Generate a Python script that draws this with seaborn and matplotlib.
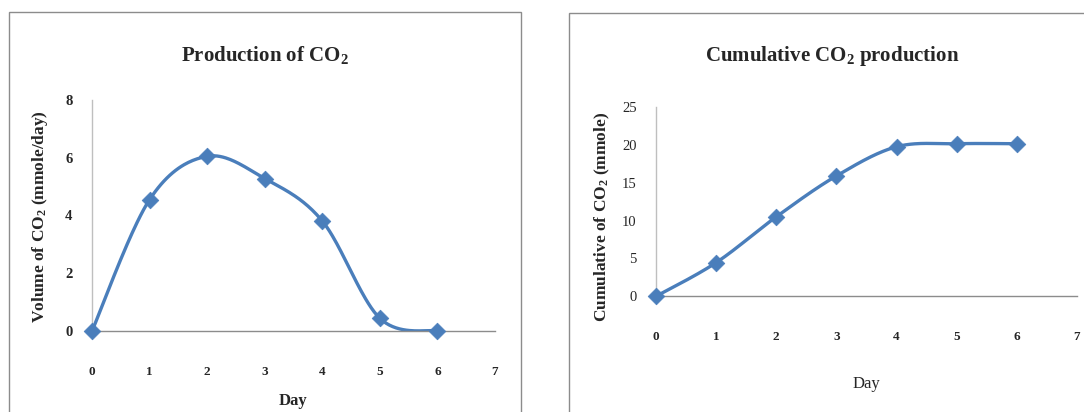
import numpy as np
import pandas as pd
import matplotlib
matplotlib.use("Agg")
import matplotlib.pyplot as plt
from matplotlib.patches import Rectangle
import seaborn as sns

# Daily and cumulative CO2 production
days = [0, 1, 2, 3, 4, 5, 6]
daily_co2 = [0.0, 4.55, 6.05, 5.28, 3.81, 0.44, 0.0]
cumulative_co2 = [0.0, 4.45, 10.5, 15.9, 19.75, 20.15, 20.15]

x_ticks = [0, 1, 2, 3, 4, 5, 6, 7]
left_y_ticks = [0, 2, 4, 6, 8]
right_y_ticks = [0, 5, 10, 15, 20, 25]

BLUE = "#4A7EBB"
SERIF = "Liberation Serif"

sns.set_theme(style="white")
plt.rcParams["font.family"] = [SERIF, "DejaVu Serif"]
plt.rcParams["mathtext.fontset"] = "custom"
plt.rcParams["mathtext.rm"] = SERIF
plt.rcParams["mathtext.bf"] = SERIF + ":bold"


def smooth_curve(xs, ys, steps=40):
    """Catmull-Rom style Bezier smoothing through every point."""
    p = np.column_stack([xs, ys]).astype(float)
    ext = np.vstack([p[0], p, p[-1]])
    out = []
    for i in range(len(p) - 1):
        p0, p1, p2, p3 = ext[i], ext[i + 1], ext[i + 2], ext[i + 3]
        c1 = p1 + (p2 - p0) / 6.0
        c2 = p2 - (p3 - p1) / 6.0
        t = np.linspace(0, 1, steps, endpoint=(i == len(p) - 2))[:, None]
        seg = ((1 - t) ** 3) * p1 + 3 * ((1 - t) ** 2) * t * c1 + 3 * (1 - t) * t ** 2 * c2 + t ** 3 * p2
        out.append(seg)
    pts = np.vstack(out)
    return pd.DataFrame({"x": pts[:, 0], "y": pts[:, 1]})


def draw_panel(ax, values, yticks, ymax, ytick_bold):
    curve = smooth_curve(days, values)
    sns.lineplot(data=curve, x="x", y="y", ax=ax, sort=False, color=BLUE,
                 linewidth=2.4, estimator=None)
    pts = pd.DataFrame({"day": days, "val": values})
    sns.scatterplot(data=pts, x="day", y="val", ax=ax, marker="D", s=72,
                    color=BLUE, edgecolor=BLUE, linewidth=0.5, zorder=5, clip_on=False)
    ax.set_xlim(0, 7)
    ax.set_ylim(0, ymax)
    ax.set_xticks(x_ticks)
    ax.set_yticks(yticks)
    ax.set_xticklabels([str(v) for v in x_ticks], fontweight="bold", fontsize=9.5)
    ax.set_yticklabels([str(v) for v in yticks],
                       fontweight="bold" if ytick_bold else "normal", fontsize=10.5)
    ax.tick_params(axis="x", length=0, pad=25)
    ax.tick_params(axis="y", length=0, pad=14)
    for s in ("top", "right"):
        ax.spines[s].set_visible(False)
    ax.spines["left"].set_color("#BFBFBF")
    ax.spines["left"].set_linewidth(1.0)
    ax.spines["bottom"].set_color("#8C8C8C")
    ax.spines["bottom"].set_linewidth(1.0)
    ax.set_facecolor("white")


fig = plt.figure(figsize=(10.84, 4.12), dpi=100)
W, H = 1084.0, 412.0

# chart frames
fig.patches.append(Rectangle((9 / W, -0.01), (521 - 9) / W, (H - 12) / H + 0.01,
                             transform=fig.transFigure, fill=False,
                             edgecolor="#8C8C8C", linewidth=1.0))
fig.patches.append(Rectangle((569 / W, -0.01), (W - 569 + 5) / W, (H - 13) / H + 0.01,
                             transform=fig.transFigure, fill=False,
                             edgecolor="#8C8C8C", linewidth=1.0))

ax1 = fig.add_axes([92 / W, (H - 331) / H, 403 / W, 231 / H])
draw_panel(ax1, daily_co2, left_y_ticks, 8, True)
ax1.set_xlabel("Day", fontweight="bold", fontsize=12, labelpad=11)
ax1.set_ylabel(r"Volume of $\mathbf{CO_2}$ (mmole/day)", fontweight="bold", fontsize=12.5)
ax1.yaxis.set_label_coords(-0.105, 0.494)

ax2 = fig.add_axes([656 / W, (H - 296.3) / H, 421 / W, 189.3 / H])
draw_panel(ax2, cumulative_co2, right_y_ticks, 25, False)
ax2.set_xlabel("Day", fontweight="normal", fontsize=12, labelpad=24)
ax2.set_ylabel(r"Cumulative of $\mathbf{CO_2}$ (mmole)", fontweight="bold", fontsize=12.5)
ax2.yaxis.set_label_coords(-0.104, 0.42)

fig.text(265 / W, 1 - 55 / H, r"Production of $\mathbf{CO_2}$", ha="center", va="center",
         fontsize=15, fontweight="bold")
fig.text(832 / W, 1 - 56 / H, r"Cumulative $\mathbf{CO_2}$ production", ha="center", va="center",
         fontsize=15, fontweight="bold")

fig.savefig("out.png", dpi=100, facecolor="white")
